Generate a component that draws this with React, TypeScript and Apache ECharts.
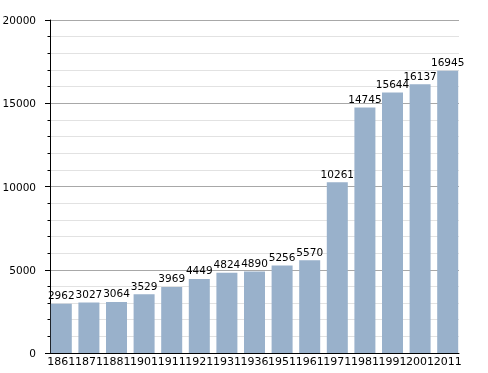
import React, { useEffect, useRef } from "react";
import * as echarts from "echarts";

const years = ["1861", "1871", "1881", "1901", "1911", "1921", "1931", "1936", "1951", "1961", "1971", "1981", "1991", "2001", "2011"];
const population = [2962, 3027, 3064, 3529, 3969, 4449, 4824, 4890, 5256, 5570, 10261, 14745, 15644, 16137, 16945];
const yTicks = { min: 0, max: 20000, interval: 5000 };

const font = { color: "#000", fontFamily: "DejaVu Sans" };

export default function App() {
  const ref = useRef<HTMLDivElement>(null);
  useEffect(() => {
    const chart = echarts.init(ref.current!, null, { renderer: "svg" });
    chart.setOption({
      animation: false,
      grid: [
        { left: 47.5, right: 26.5, top: 20, bottom: 20, containLabel: false, outerBoundsMode: "none" },
        { left: 50, right: 29, top: 20, bottom: 20, containLabel: false, outerBoundsMode: "none" },
      ],
      xAxis: [
        {
          type: "category",
          gridIndex: 0,
          data: years,
          axisLine: { show: false },
          axisTick: { show: false },
          axisLabel: { interval: 0, margin: 3, fontSize: 11, ...font },
        },
        {
          type: "category",
          gridIndex: 1,
          data: years,
          axisLine: { show: true, lineStyle: { color: "#000", width: 1 } },
          axisTick: { show: false },
          axisLabel: { show: false },
        },
      ],
      yAxis: [
        {
          type: "value",
          gridIndex: 0,
          min: yTicks.min,
          max: yTicks.max,
          interval: yTicks.interval,
          show: false,
          splitLine: { show: false },
        },
        {
          type: "value",
          gridIndex: 1,
          min: yTicks.min,
          max: yTicks.max,
          interval: yTicks.interval,
          axisLine: { show: true, lineStyle: { color: "#000", width: 1 } },
          axisTick: { show: true, length: 5, lineStyle: { color: "#000" } },
          minorTick: { show: true, splitNumber: 5, length: 2.5, lineStyle: { color: "#000" } },
          axisLabel: { margin: 14, fontSize: 10.5, formatter: (v: number) => String(v), ...font },
          splitLine: { lineStyle: { color: "#a8a8a8", width: 1 } },
          minorSplitLine: { show: true, lineStyle: { color: "#e2e2e2", width: 1 } },
        },
      ],
      series: [
        {
          type: "bar",
          xAxisIndex: 0,
          yAxisIndex: 0,
          data: population,
          barWidth: 21,
          itemStyle: { color: "#99b1cb" },
          label: { show: true, position: "top", distance: 3, fontSize: 10.5, ...font },
        },
      ],
    });
    return () => chart.dispose();
  }, []);
  return <div ref={ref} style={{ position: "fixed", left: 0, top: 0, width: 488, height: 373 }} />;
}
